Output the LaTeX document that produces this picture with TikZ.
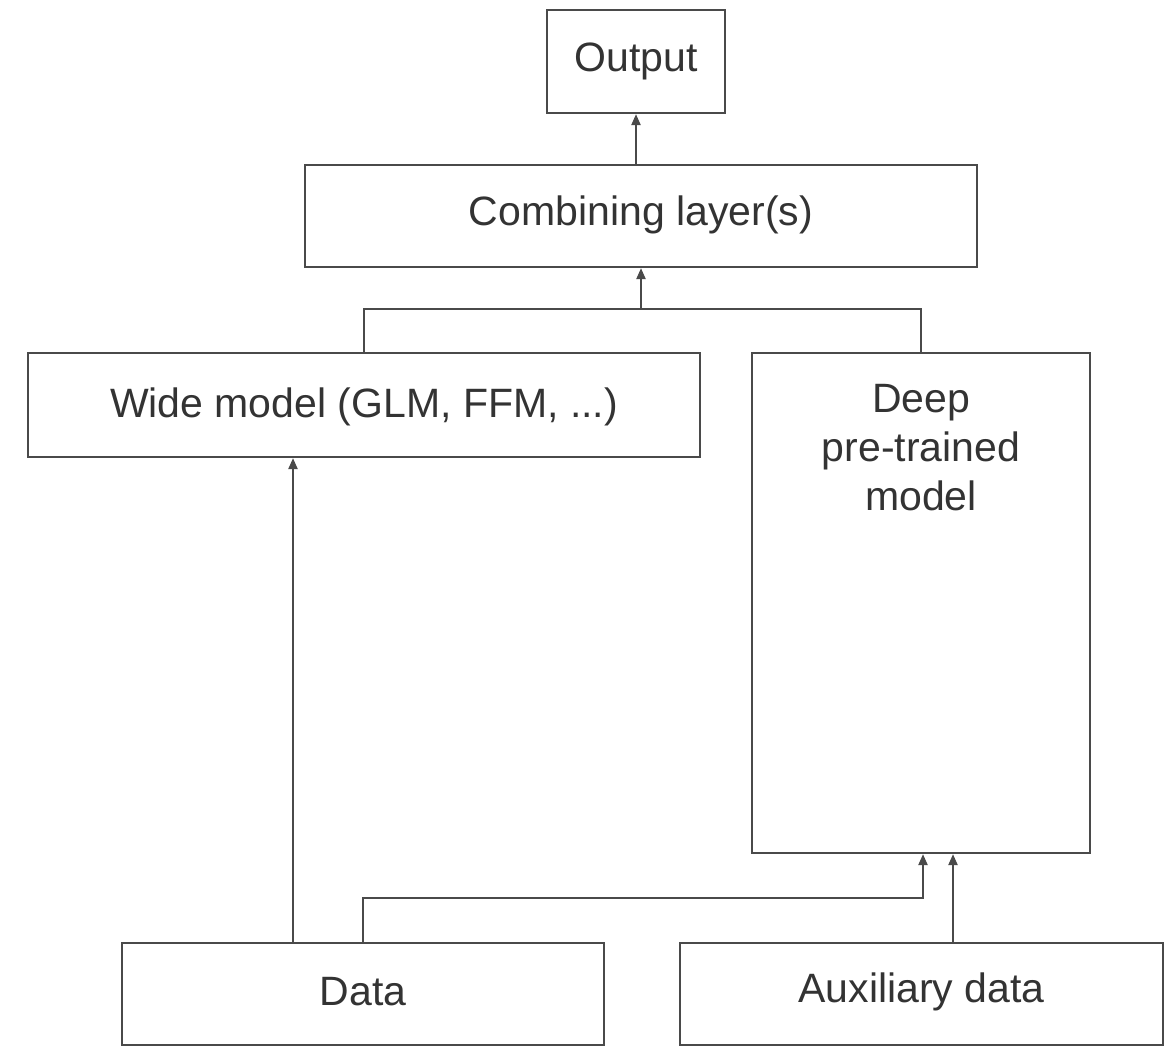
\documentclass[tikz,border=0pt]{standalone}
\usepackage{fontspec}
\setmainfont{Liberation Sans}
\usetikzlibrary{arrows.meta}
\definecolor{ln}{HTML}{4a4a4a}
\definecolor{tx}{HTML}{333333}
\begin{document}
\begin{tikzpicture}[x=1pt,y=-1pt,
  box/.style={draw=ln,line width=2.2pt,rectangle,inner sep=0pt},
  lbl/.style={text=tx,font=\fontsize{41}{49}\selectfont,align=center},
  conn/.style={draw=ln,line width=2.2pt},
  arr/.style={conn,-{Triangle[length=11pt,width=9pt]}}]
\useasboundingbox (0,0) rectangle (1170,1047);
\node[box,minimum width=178pt,minimum height=103pt] (out) at (636,61.5) {};
\node[lbl] (outt) at (636,61) {Output};
\node[box,minimum width=672pt,minimum height=102pt] (comb) at (641,216) {};
\node[lbl] (combt) at (641,215) {Combining layer(s)};
\node[box,minimum width=672pt,minimum height=104pt] (wide) at (364,405) {};
\node[lbl] (widet) at (364,407) {Wide model (GLM, FFM, ...)};
\node[box,minimum width=338pt,minimum height=500pt] (deep) at (921,603) {};
\node[lbl,anchor=north] (deept) at (921,381) {Deep\\pre-trained\\model};
\node[box,minimum width=482pt,minimum height=102pt] (data) at (363,994) {};
\node[lbl] (datat) at (363,992) {Data};
\node[box,minimum width=483pt,minimum height=102pt] (aux) at (921.5,994) {};
\node[lbl] (auxt) at (921.5,992) {Auxiliary data};
% connectors
\draw[arr] (out.south |- comb.north) -- (out.south);
\coordinate (jn) at (comb.south |- 0,309);
\draw[conn] (wide.north) |- (jn) -| (deep.north);
\draw[arr] (jn) -- (comb.south);
\draw[arr] ([xshift=-70pt]data.north) -- ([xshift=-70pt]data.north |- wide.south);
\coordinate (dj) at (data.north |- 0,898);
\draw[arr] (data.north) -- (dj) -| ([xshift=2pt]deep.south);
\draw[arr] ([xshift=31.5pt]aux.north) -- ([xshift=31.5pt]aux.north |- deep.south);
\end{tikzpicture}
\end{document}
